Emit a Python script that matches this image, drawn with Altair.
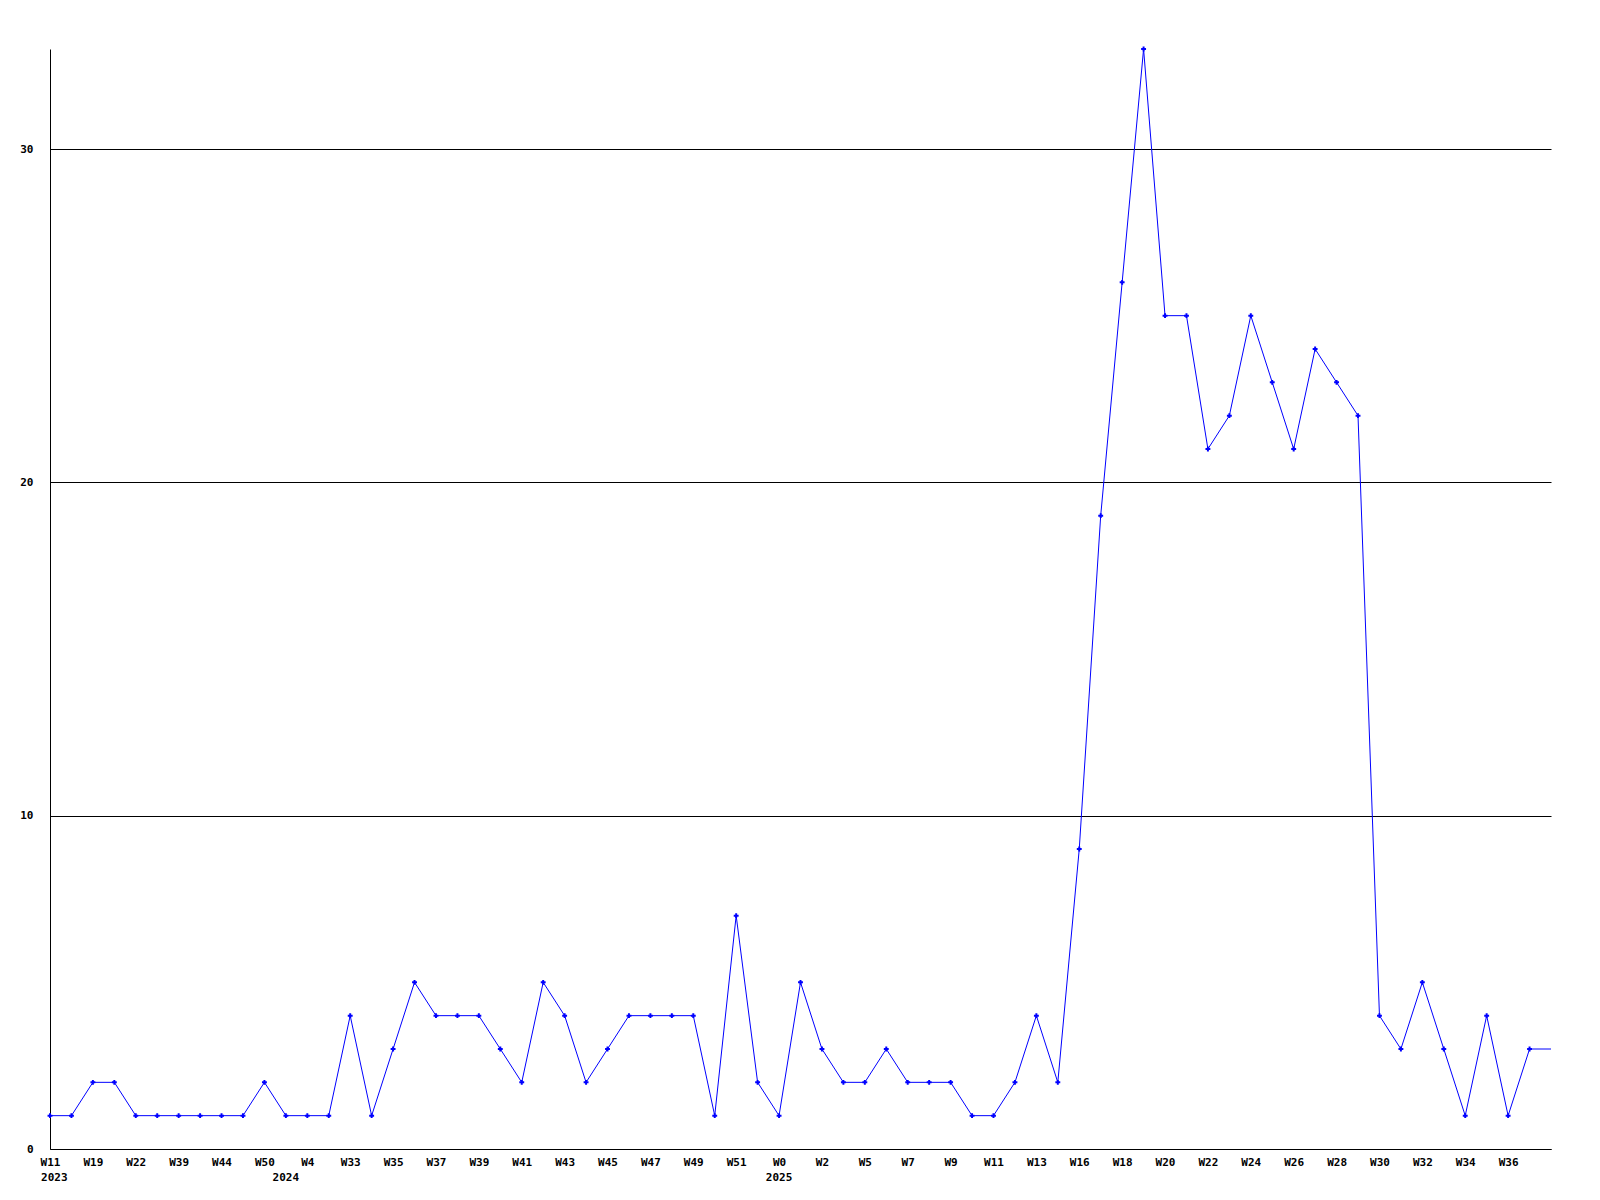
import altair as alt
import pandas as pd

# week labels (odd-index ones are not displayed in the reference; estimated)
weeks = ["W11", "W12", "W19", "W20", "W22", "W23", "W39", "W40", "W44", "W45",
         "W50", "W1", "W4", "W5", "W33", "W34", "W35", "W36", "W37", "W38",
         "W39", "W40", "W41", "W42", "W43", "W44", "W45", "W46", "W47", "W48",
         "W49", "W50", "W51", "W52", "W0", "W1", "W2", "W4", "W5", "W6",
         "W7", "W8", "W9", "W10", "W11", "W12", "W13", "W15", "W16", "W17",
         "W18", "W19", "W20", "W21", "W22", "W23", "W24", "W25", "W26", "W27",
         "W28", "W29", "W30", "W31", "W32", "W33", "W34", "W35", "W36", "W37"]

values = [1, 1, 2, 2, 1, 1, 1, 1, 1, 1,
          2, 1, 1, 1, 4, 1, 3, 5, 4, 4,
          4, 3, 2, 5, 4, 2, 3, 4, 4, 4,
          4, 1, 7, 2, 1, 5, 3, 2, 2, 3,
          2, 2, 2, 1, 1, 2, 4, 2, 9, 19,
          26, 33, 25, 25, 21, 22, 25, 23, 21, 24,
          23, 22, 4, 3, 5, 3, 1, 4, 1, 3]

years = ["2023", "2024", "2025"]
year_start_index = [0.2, 11, 34]

n = len(values)
pts = pd.DataFrame({"i": list(range(n)), "v": values})
# the reference's line carries the last value on to the right edge of the plot
line_df = pd.DataFrame({"i": list(range(n + 1)), "v": values + [values[-1]]})
year_df = pd.DataFrame({"i": year_start_index, "year": years})

W, H = 1501, 1100
FONT = "DejaVu Sans Mono"

label_arr = "[" + ",".join("'%s'" % w for w in weeks) + "]"

x_scale = alt.Scale(domain=[0, n], nice=False, zero=False)
y_scale = alt.Scale(domain=[0, max(values)], nice=False)

x_axis = alt.Axis(values=list(range(0, n, 2)), labelExpr=label_arr + "[datum.value]",
                  grid=False, ticks=False, domainColor="black", domainWidth=1,
                  labelFont=FONT, labelFontWeight="bold", labelFontSize=11,
                  labelColor="black", labelPadding=7, labelAlign="center",
                  labelOverlap=False, labelFlush=False, title=None)
y_axis = alt.Axis(values=[0, 10, 20, 30], grid=True, gridColor="black", gridOpacity=1,
                  gridWidth=1, ticks=False, domainColor="black", domainWidth=1,
                  labelFont=FONT, labelFontWeight="bold", labelFontSize=11,
                  labelColor="black", labelPadding=17, title=None)

line = alt.Chart(line_df).mark_line(color="#0000ff", strokeWidth=1).encode(
    x=alt.X("i:Q", scale=x_scale, axis=x_axis),
    y=alt.Y("v:Q", scale=y_scale, axis=y_axis),
)

points = alt.Chart(pts).mark_point(shape="cross", filled=True, size=24,
                                   color="#0000ff", opacity=1).encode(
    x=alt.X("i:Q", scale=x_scale),
    y=alt.Y("v:Q", scale=y_scale),
)

year_text = alt.Chart(year_df).mark_text(font=FONT, fontWeight="bold", fontSize=11,
                                         color="black", align="center",
                                         baseline="middle").encode(
    x=alt.X("i:Q", scale=x_scale),
    y=alt.value(H + 29),
    text="year:N",
)

chart = alt.layer(line, points, year_text).properties(
    width=W, height=H,
    background="white",
    autosize=alt.AutoSizeParams(type="none"),
    padding={"left": 42, "top": 41, "right": 41, "bottom": 50},
).configure_view(stroke=None, strokeWidth=0)

chart.save("out.html", embed_options={"renderer": "svg", "actions": False})
